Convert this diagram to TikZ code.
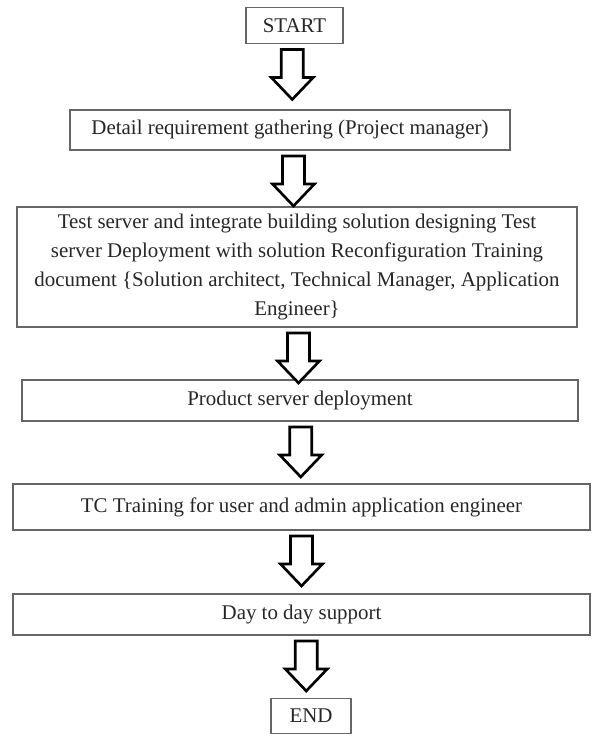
\documentclass[tikz,border=0pt]{standalone}
\usepackage{fontspec}
\setmainfont{Liberation Serif}
\usetikzlibrary{calc}

\tikzset{
  stepbox/.style={draw=black!60, line width=1.1pt, text=black!85, inner sep=0pt,
    align=center, font=\fontsize{11.9}{16.6}\selectfont},
  boxsize/.style 2 args={minimum width=#1*0.02cm, minimum height=#2*0.02cm},
  blockarrow/.style={draw=black, line width=1.5pt, fill=white, line join=miter}
}

% hollow block arrow from the bottom of #1 down towards #2
\newcommand{\flowarrow}[2]{%
  \path ($(#1.south)!0.5!(#2.north)$) coordinate (mid);
  \draw[blockarrow] ($(mid |- #1.south)+(-11,5)$) -- ++(22,0) -- ++(0,28)
    -- ++(10,0) -- ++(-21,22) -- ++(-21,-22) -- ++(10,0) -- cycle;}

\begin{document}
\begin{tikzpicture}[x=0.02cm, y=-0.02cm]
  \useasboundingbox (0,0) rectangle (591,736);
  % The boxes of the flow, top to bottom.
  \node[stepbox, boxsize={97}{36}] (start) at (294.5,25.5) {START};
  \node[stepbox, boxsize={440}{40}] (req) at (290,130)
    {Detail requirement gathering (Project manager)};
  \node[stepbox, boxsize={560}{120}] (design) at (297,267)
    {Test server and integrate building solution designing Test\\
     server Deployment with solution Reconfiguration Training\\
     document \{Solution architect, Technical Manager, Application\\
     Engineer\}};
  \node[stepbox, boxsize={556}{41}] (prod) at (300,400.5)
    {Product server deployment};
  \node[stepbox, boxsize={577}{46}] (train) at (301.5,507)
    {TC Training for user and admin application engineer};
  \node[stepbox, boxsize={577}{41}] (support) at (301.5,614.5)
    {Day to day support};
  \node[stepbox, boxsize={80}{35}] (end) at (311,716) {END};
  % Block arrows between the boxes.
  \flowarrow{start}{req}
  \flowarrow{req}{design}
  \flowarrow{design}{prod}
  \flowarrow{prod}{train}
  \flowarrow{train}{support}
  \flowarrow{support}{end}
\end{tikzpicture}
\end{document}
